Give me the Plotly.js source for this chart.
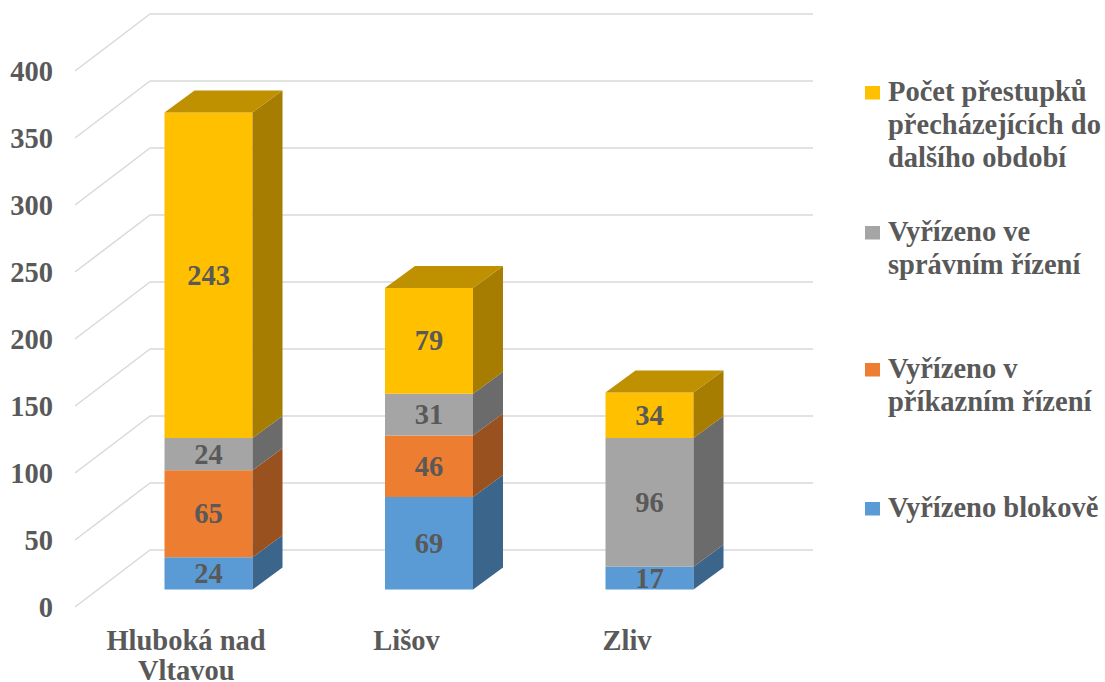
<!DOCTYPE html>
<html><head><meta charset="utf-8">
<script src="https://cdn.plot.ly/plotly-3.0.1.min.js"></script>
<style>html,body{margin:0;padding:0;background:#fff}</style></head>
<body><div id="chart" style="width:1105px;height:682px"></div>
<script>
const categories = ["Hluboká nad<br>Vltavou", "Lišov", "Zliv"];
const blokove = [24, 69, 17];
const prikazni = [65, 46, 0];
const spravni = [24, 31, 96];
const prestupky = [243, 79, 34];
const yTicks = [0, 50, 100, 150, 200, 250, 300, 350, 400];

const seriesNames = ["Vyřízeno blokově", "Vyřízeno v<br>příkazním řízení", "Vyřízeno ve<br>správním řízení", "Počet přestupků<br>přecházejících do<br>dalšího období"];
const seriesValues = [blokove, prikazni, spravni, prestupky];
const frontColors = ["#5B9BD5", "#ED7D31", "#A5A5A5", "#FFC000"];
const sideColors = ["#3B658B", "#9A5120", "#6B6B6B", "#A67D00"];
const topColor = "#BF9000";

// pixel geometry of the pseudo-3D projection
const W = 1105, H = 682;
const pL = 70, pR = 820, pT = 10, pB = 612;
const x0px = 186, xStep = 220.5, y0px = 607, yK = 1.34;
const xv = px => (px - x0px) / xStep;
const wallDX = 75 / xStep, wallDY = 57 / yK;
const wallL = xv(75), wallR = xv(813);
const barShiftX = 22.5 / xStep, barShiftY = 17.5 / yK;
const barW = 88 / xStep, barDX = 30 / xStep, barDY = 22 / yK;

const pxX = px => (px - pL) / (pR - pL);
const pxY = py => (pB - py) / (pB - pT);

const fontFam = '"Liberation Serif", "Times New Roman", serif';
const txt = "#595959";
const FS = 28.5;
const LEG_FS = 28.5;
const LINE = 33.5;

const shapes = [];
yTicks.forEach(t => {
  shapes.push({type:"line", layer:"below", x0:wallL, y0:t, x1:wallL+wallDX, y1:t+wallDY, line:{color:"#D9D9D9", width:1.5}});
  shapes.push({type:"line", layer:"below", x0:wallL+wallDX, y0:t+wallDY, x1:wallR, y1:t+wallDY, line:{color:"#D9D9D9", width:1.5}});
});

const traces = [];
const cum = categories.map(() => 0);
seriesValues.forEach((vals, s) => {
  const base = vals.map((v, i) => cum[i] + barShiftY);
  traces.push({
    type:"bar", name:seriesNames[s].replace(/<br>/g," "),
    x:categories.map((c, i) => i + barShiftX), y:vals, base:base, width:barW,
    marker:{color:frontColors[s], line:{width:0}},
    text:vals.map(v => v ? String(v) : ""), textposition:"inside", insidetextanchor:"middle",
    textangle:0, constraintext:"none",
    insidetextfont:{family:fontFam, size:FS, color:txt, weight:700},
    hoverinfo:"y+name", showlegend:false
  });
  const sx = [], sy = [];
  vals.forEach((v, i) => {
    if (!v) return;
    const xr = i + barShiftX + barW/2, b = base[i];
    sx.push(xr, xr+barDX, xr+barDX, xr, xr, null);
    sy.push(b, b+barDY, b+v+barDY, b+v, b, null);
  });
  traces.push({type:"scatter", mode:"lines", x:sx, y:sy, fill:"toself", fillcolor:sideColors[s],
    line:{width:0, color:sideColors[s]}, hoverinfo:"skip", showlegend:false});
  vals.forEach((v, i) => { cum[i] += v; });
});
// top caps
const tx = [], ty = [];
cum.forEach((c, i) => {
  const xl = i + barShiftX - barW/2, xr = xl + barW, y = c + barShiftY;
  tx.push(xl, xr, xr+barDX, xl+barDX, xl, null);
  ty.push(y, y, y+barDY, y+barDY, y, null);
});
traces.push({type:"scatter", mode:"lines", x:tx, y:ty, fill:"toself", fillcolor:topColor,
  line:{width:0, color:topColor}, hoverinfo:"skip", showlegend:false});

const annotations = [];
// legend, top entry first; each line placed on its own for the reference's tight leading
const legendRows = [[3, 91], [2, 231], [1, 368], [0, 507]];
legendRows.forEach(([s, yc]) => {
  shapes.push({type:"rect", xref:"paper", yref:"paper", x0:pxX(865), x1:pxX(880), y0:pxY(yc-5), y1:pxY(yc+8.5),
    fillcolor:frontColors[s], line:{width:0}});
  seriesNames[s].split("<br>").forEach((line, k) => {
    annotations.push({xref:"paper", yref:"paper", x:pxX(887), y:pxY(yc+k*LINE), xanchor:"left", yanchor:"middle",
      showarrow:false, text:line, borderpad:0, font:{family:fontFam, size:LEG_FS, color:txt, weight:700}});
  });
});
// category continuation lines
categories.forEach((c, i) => {
  c.split("<br>").slice(1).forEach((line, k) => {
    annotations.push({xref:"x", yref:"paper", x:i, y:pxY(637+(k+1)*LINE), xanchor:"center", yanchor:"middle",
      showarrow:false, text:line, borderpad:0, font:{family:fontFam, size:FS, color:txt, weight:700}});
  });
});

const layout = {
  width:W, height:H, paper_bgcolor:"#fff", plot_bgcolor:"#fff",
  margin:{l:pL, r:W-pR, t:pT, b:H-pB, pad:0},
  barmode:"overlay", showlegend:false,
  xaxis:{range:[xv(pL), xv(pR)], tickvals:categories.map((c,i)=>i), ticktext:categories.map(c=>c.split("<br>")[0]), tickangle:0,
    showgrid:false, zeroline:false, showline:false, ticks:"",
    ticklabelstandoff:8, tickfont:{family:fontFam, size:FS, color:txt, weight:700}},
  yaxis:{range:[(y0px-pB)/yK, (y0px-pT)/yK], tickvals:yTicks, ticktext:yTicks.map(String),
    showgrid:false, zeroline:false, showline:false, ticks:"",
    ticklabelstandoff:16, tickfont:{family:fontFam, size:FS, color:txt, weight:700}},
  shapes:shapes, annotations:annotations
};
Plotly.newPlot("chart", traces, layout, {displayModeBar:false, responsive:false});
</script></body></html>
